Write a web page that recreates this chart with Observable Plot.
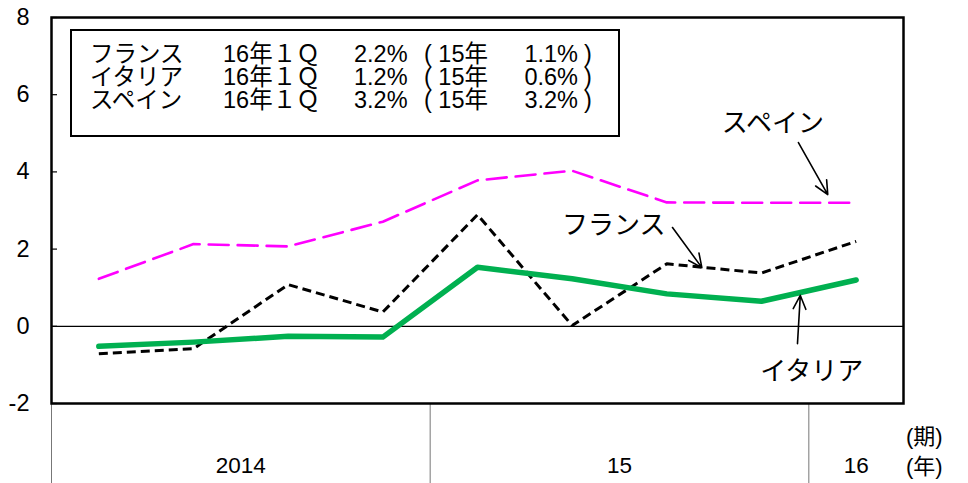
<!DOCTYPE html>
<html>
<head>
<meta charset="utf-8">
<script src="https://cdn.jsdelivr.net/npm/d3@7"></script>
<script src="https://cdn.jsdelivr.net/npm/@observablehq/plot@0.6"></script>
<style>
  html, body { margin: 0; padding: 0; background: #fff; }
  #wrap { position: relative; width: 968px; height: 483px; overflow: hidden;
    font-family: "Liberation Sans", "Noto Sans CJK JP", sans-serif; color: #000; }
  #wrap svg { position: absolute; left: 0; top: 0; overflow: visible; }
  .legend { position: absolute; left: 70px; top: 29px; width: 550px; height: 108px;
    border: 2px solid #000; box-sizing: border-box; background: #fff; }
  .cell { position: absolute; font-size: 23.5px; line-height: 21px; white-space: pre; }
  .unit { position: absolute; left: 906px; font-size: 22px; line-height: 22px; white-space: pre; }
</style>
</head>
<body>
<div id="wrap"></div>
<script>
// ---- data ----
const quarters = [1, 2, 3, 4, 5, 6, 7, 8, 9]; // 2014Q1 ... 2016Q1
const quarterNames = ["2014Q1","2014Q2","2014Q3","2014Q4","2015Q1","2015Q2","2015Q3","2015Q4","2016Q1"];
const spain  = [1.23, 2.13, 2.07, 2.71, 3.78, 4.03, 3.21, 3.20, 3.20];
const france = [-0.71, -0.58, 1.08, 0.37, 2.89, 0.02, 1.62, 1.38, 2.20];
const italy  = [-0.52, -0.41, -0.26, -0.28, 1.53, 1.23, 0.84, 0.65, 1.20];

const yTicks = [-2, 0, 2, 4, 6, 8];
const yearBounds = [0.5, 4.5, 8.5];
const yearCenters = [2.5, 6.5, 9];
const yearLabels = ["2014", "15", "16"];

const legendNames = ["フランス", "イタリア", "スペイン"];
const legendLatest = [2.2, 1.2, 3.2];
const legend2015 = [1.1, 0.6, 3.2];

// annotation labels and arrows (data space)
const labelNames = ["スペイン", "フランス", "イタリア"];
const labelX = [8.12, 6.44, 8.53];
const labelY = [5.25, 2.61, -1.17];
const arrowX1 = [8.39, 7.06, 8.38];
const arrowY1 = [4.76, 2.56, -0.45];
const arrowX2 = [8.70, 7.37, 8.41];
const arrowY2 = [3.41, 1.52, 0.80];

// ---- build tables ----
const mk = (vals) => quarters.map((q, i) => ({q, name: quarterNames[i], v: vals[i]}));
const labels = labelNames.map((t, i) => ({t, x: labelX[i], y: labelY[i]}));
const arrows = labelNames.map((t, i) => ({x1: arrowX1[i], y1: arrowY1[i], x2: arrowX2[i], y2: arrowY2[i]}));
const yearMap = new Map(yearCenters.map((c, i) => [c, yearLabels[i]]));

const chart = Plot.plot({
  width: 968, height: 483,
  marginLeft: 51, marginRight: 65, marginTop: 17, marginBottom: 80,
  style: {fontFamily: '"Liberation Sans", "Noto Sans CJK JP", sans-serif', fontSize: "23px", color: "#000", background: "transparent"},
  x: {type: "linear", domain: [0.5, 9.5]},
  y: {domain: [-2, 8]},
  marks: [
    Plot.axisY({ticks: yTicks, tickSize: 0, tickPadding: 22, fontSize: 23.5, label: null, tickFormat: d => String(d)}),
    Plot.axisY({ticks: yTicks, tickSize: 6, insetLeft: 6, tickFormat: () => "", label: null, strokeWidth: 1.2}),
    Plot.axisX({ticks: yearBounds, tickSize: 80, tickFormat: () => "", label: null, stroke: "#777", strokeWidth: 1}),
    Plot.axisX({ticks: yearCenters, tickSize: 0, tickPadding: 54, tickFormat: d => yearMap.get(d), label: null, fontSize: 22.5}),
    Plot.ruleY([0], {stroke: "#000", strokeWidth: 1.2}),
    Plot.line(mk(france), {x: "q", y: "v", stroke: "#000", strokeWidth: 3, strokeDasharray: "9,5", strokeLinecap: "butt"}),
    Plot.line(mk(italy), {x: "q", y: "v", stroke: "#00B050", strokeWidth: 5.5}),
    Plot.line(mk(spain), {x: "q", y: "v", stroke: "#FF00FF", strokeWidth: 2.6, strokeDasharray: "20,9"}),
    Plot.arrow(arrows, {x1: "x1", y1: "y1", x2: "x2", y2: "y2", stroke: "#000", strokeWidth: 1.6, headLength: 14, headAngle: 50}),
    Plot.text(labels, {x: "x", y: "y", text: "t", fontSize: 26, fill: "#000", fontFamily: '"Noto Sans CJK JP", sans-serif'}),
    Plot.frame({stroke: "#000", strokeWidth: 2.5})
  ]
});
const wrap = document.getElementById("wrap");
wrap.appendChild(chart);

// legend box
const box = document.createElement("div");
box.className = "legend";
// [left position, right-aligned?]
const cols = [[18, false], [151, false], [282, false], [352, false], [506, true], [512, false]];
legendNames.forEach((n, i) => {
  const top = 13 + 23 * i;
  const cells = [
    n,
    "16年１Ｑ",
    legendLatest[i].toFixed(1) + "%",
    "( 15年",
    legend2015[i].toFixed(1) + "%",
    ")"
  ];
  cells.forEach((c, j) => {
    const s = document.createElement("span");
    s.className = "cell";
    s.style.left = cols[j][0] + "px";
    if (cols[j][1]) s.style.transform = "translateX(-100%)";
    s.style.top = top + "px";
    s.textContent = c;
    box.appendChild(s);
  });
});
wrap.appendChild(box);

// unit labels on the right of the category axis
[["(期)", 426], ["(年)", 456]].forEach(([t, top]) => {
  const s = document.createElement("span");
  s.className = "unit";
  s.style.top = top + "px";
  s.textContent = t;
  wrap.appendChild(s);
});
</script>
</body>
</html>
